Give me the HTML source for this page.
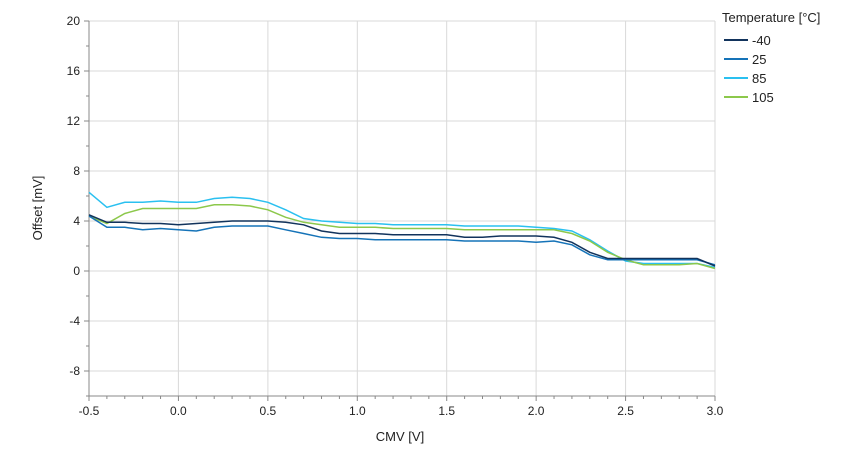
<!DOCTYPE html><html><head><meta charset="utf-8"><style>body{margin:0;background:#fff}svg{font-family:"Liberation Sans",sans-serif}</style></head><body>
<svg id="s" width="845" height="469" xmlns="http://www.w3.org/2000/svg">
<g stroke="#d9d9d9" stroke-width="1">
<line x1="178.4" y1="21" x2="178.4" y2="396"/><line x1="267.9" y1="21" x2="267.9" y2="396"/><line x1="357.3" y1="21" x2="357.3" y2="396"/><line x1="446.7" y1="21" x2="446.7" y2="396"/><line x1="536.1" y1="21" x2="536.1" y2="396"/><line x1="625.6" y1="21" x2="625.6" y2="396"/><line x1="715" y1="21" x2="715" y2="396"/>
<line x1="89" y1="21" x2="715" y2="21"/><line x1="89" y1="71" x2="715" y2="71"/><line x1="89" y1="121" x2="715" y2="121"/><line x1="89" y1="171" x2="715" y2="171"/><line x1="89" y1="221" x2="715" y2="221"/><line x1="89" y1="271" x2="715" y2="271"/><line x1="89" y1="321" x2="715" y2="321"/><line x1="89" y1="371" x2="715" y2="371"/>
</g>
<line x1="89" y1="21" x2="89" y2="396" stroke="#888"/><line x1="89" y1="396" x2="715" y2="396" stroke="#888"/>
<g id="ticks" stroke="#888"></g>
<g id="lines" fill="none" stroke-width="1.5"></g>
<g font-size="12" fill="#222" text-anchor="end">
<text x="80" y="25">20</text><text x="80" y="75">16</text><text x="80" y="125">12</text><text x="80" y="175">8</text><text x="80" y="225">4</text><text x="80" y="275">0</text><text x="80" y="325">-4</text><text x="80" y="375">-8</text>
</g>
<g font-size="12" fill="#222" text-anchor="middle">
<text x="89" y="415">-0.5</text><text x="178.4" y="415">0.0</text><text x="267.9" y="415">0.5</text><text x="357.3" y="415">1.0</text><text x="446.7" y="415">1.5</text><text x="536.1" y="415">2.0</text><text x="625.6" y="415">2.5</text><text x="715" y="415">3.0</text>
<text x="400" y="441" font-size="13">CMV [V]</text>
<text transform="translate(42,208) rotate(-90)" font-size="13">Offset [mV]</text>
</g>
<g font-size="13" fill="#222">
<text x="722" y="22">Temperature [°C]</text>
<line x1="724" y1="40" x2="748" y2="40" stroke="#12335c" stroke-width="2"/><text x="752" y="45">-40</text>
<line x1="724" y1="59" x2="748" y2="59" stroke="#1573b8" stroke-width="2"/><text x="752" y="64">25</text>
<line x1="724" y1="78" x2="748" y2="78" stroke="#2ac0f0" stroke-width="2"/><text x="752" y="83">85</text>
<line x1="724" y1="97" x2="748" y2="97" stroke="#8cc84b" stroke-width="2"/><text x="752" y="102">105</text>
</g>
</svg>
<script>
var ns="http://www.w3.org/2000/svg";
var t=document.getElementById("ticks");
for(var v=-10;v<=20;v+=2){var y=271-v*12.5;var l=document.createElementNS(ns,"line");l.setAttribute("x1",v%4==0?84:86);l.setAttribute("x2",89);l.setAttribute("y1",y);l.setAttribute("y2",y);t.appendChild(l);}
for(var i=0;i<=35;i++){var x=89+i*17.886;var l=document.createElementNS(ns,"line");l.setAttribute("x1",x);l.setAttribute("x2",x);l.setAttribute("y1",396);l.setAttribute("y2",i%5==0?401:399);t.appendChild(l);}
var d={
"#2ac0f0":[6.3,5.1,5.5,5.5,5.6,5.5,5.5,5.8,5.9,5.8,5.5,4.9,4.2,4.0,3.9,3.8,3.8,3.7,3.7,3.7,3.7,3.6,3.6,3.6,3.6,3.5,3.4,3.2,2.5,1.6,0.8,0.6,0.6,0.6,0.6,0.3],
"#8cc84b":[4.4,3.8,4.6,5.0,5.0,5.0,5.0,5.3,5.3,5.2,4.9,4.3,3.9,3.7,3.5,3.5,3.5,3.4,3.4,3.4,3.4,3.3,3.3,3.3,3.3,3.3,3.3,3.0,2.4,1.5,0.9,0.5,0.5,0.5,0.6,0.2],
"#1573b8":[4.4,3.5,3.5,3.3,3.4,3.3,3.2,3.5,3.6,3.6,3.6,3.3,3.0,2.7,2.6,2.6,2.5,2.5,2.5,2.5,2.5,2.4,2.4,2.4,2.4,2.3,2.4,2.1,1.3,0.9,0.9,0.9,0.9,0.9,0.9,0.5],
"#12335c":[4.5,3.9,3.9,3.8,3.8,3.7,3.8,3.9,4.0,4.0,4.0,3.9,3.7,3.2,3.0,3.0,3.0,2.9,2.9,2.9,2.9,2.7,2.7,2.8,2.8,2.8,2.7,2.3,1.5,1.0,1.0,1.0,1.0,1.0,1.0,0.4]};
var g=document.getElementById("lines");
for(var c in d){var p=d[c].map(function(v,i){return (89+i*17.886).toFixed(1)+","+(271-v*12.5).toFixed(1)}).join(" ");var e=document.createElementNS(ns,"polyline");e.setAttribute("points",p);e.setAttribute("stroke",c);g.appendChild(e);}
</script>
</body></html>
